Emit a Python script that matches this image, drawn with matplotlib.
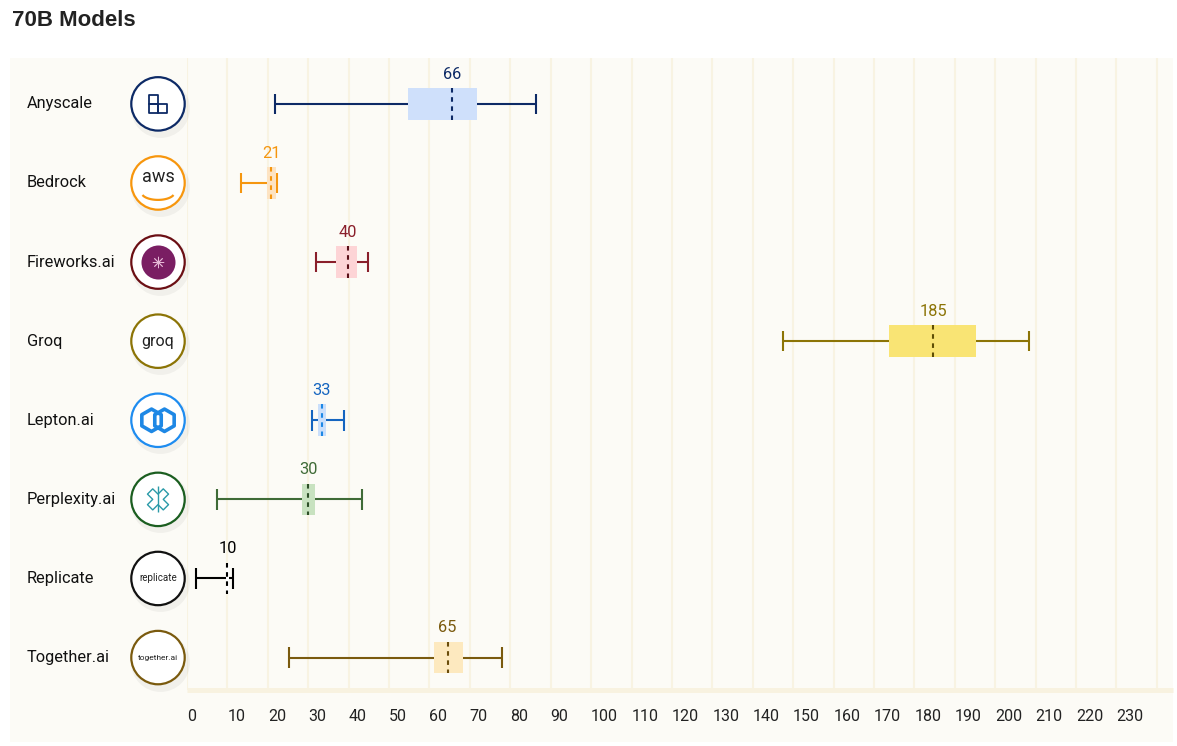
import numpy as np
import matplotlib.pyplot as plt
from matplotlib.transforms import blended_transform_factory, offset_copy
from matplotlib.patches import Rectangle
from matplotlib.path import Path

plt.rcParams['font.family'] = ['Roboto', 'DejaVu Sans']

providers = ["Anyscale", "Bedrock", "Fireworks.ai", "Groq", "Lepton.ai",
             "Perplexity.ai", "Replicate", "Together.ai"]
whisker_lo = [21.8, 13.3, 31.8, 147.4, 30.9, 7.5, 2.3, 25.2]
q1 = [54.6, 19.8, 36.9, 173.8, 32.3, 28.4, 9.7, 61.1]
median = [65.6, 20.9, 39.9, 184.6, 33.3, 30.0, 10.0, 64.5]
q3 = [71.8, 22.0, 42.0, 195.3, 34.3, 31.6, 10.3, 68.3]
whisker_hi = [86.4, 22.2, 44.8, 208.4, 38.9, 43.3, 11.4, 78.0]
median_labels = ["66", "21", "40", "185", "33", "30", "10", "65"]

line_colors = ["#0d2a66", "#f5960f", "#8a1f2b", "#8c7406", "#1565c0",
               "#3f6b37", "#000000", "#7a5a0e"]
box_colors = ["#cfe0fb", "#fde3c2", "#fdd4d6", "#f9e474", "#cadffb",
              "#c8e2c0", "#ffffff", "#fde9bf"]
median_colors = ["#0d2a66", "#f5960f", "#5a1018", "#5e4e04", "#1e88e5",
                 "#2d4f27", "#000000", "#6a4c0a"]
ring_colors = ["#0d2a66", "#f7960d", "#6b0f14", "#8c7406", "#1e8cf0",
               "#1b5e20", "#111111", "#7a5a0e"]
logo_texts = ["", "aws", "", "groq", "", "", "replicate", "together.ai"]

W, H = 1177, 746
fig = plt.figure(figsize=(W / 100, H / 100), dpi=100)
fig.patch.set_facecolor("white")
bg = "#fcfbf6"
fig.patches.append(Rectangle((10 / W, 4 / H), (1173 - 10) / W, (742 - 58) / H,
                             transform=fig.transFigure, facecolor=bg,
                             edgecolor="none", zorder=-10))

ax = fig.add_axes([187 / W, (H - 690) / H, (1173 - 187) / W, (690 - 58) / H])
ax.set_facecolor(bg)

y = np.arange(len(providers))
ax.set_xlim(0, 244)
ax.set_ylim(7.41, -0.58)

# grid and axis band
ticks = list(range(0, 250, 10))
ax.set_xticks(ticks)
ax.set_xticklabels([str(t) if t < 240 else "" for t in ticks], ha="left",
                   fontsize=11.5, color="#222222")
ax.tick_params(axis="x", length=0, pad=14)
ax.set_yticks([])
ax.set_axisbelow(True)
ax.grid(axis="x", color="#f8f3e2", linewidth=1.5, zorder=0)
for s in ["top", "right", "left"]:
    ax.spines[s].set_visible(False)
ax.spines["bottom"].set_color("#f8f2e0")
ax.spines["bottom"].set_linewidth(3.6)
ax.spines["bottom"].set_capstyle("butt")

box_h = 0.4
cap_h = 0.13
for i in range(len(providers)):
    c = line_colors[i]
    ax.hlines(y[i], whisker_lo[i], whisker_hi[i], color=c, lw=1.5, zorder=2)
    ax.vlines([whisker_lo[i], whisker_hi[i]], y[i] - cap_h, y[i] + cap_h,
              color=c, lw=1.5, zorder=2)
    ax.barh(y[i], q3[i] - q1[i], left=q1[i], height=box_h,
            color=box_colors[i], edgecolor="none", zorder=3)
    ax.vlines(median[i], y[i] - box_h / 2, y[i] + box_h / 2,
              color=median_colors[i], lw=1.5, linestyles=(0, (2.2, 2.2)), zorder=4)
    ax.text(median[i], y[i] - box_h / 2 - 0.08, median_labels[i],
            ha="center", va="bottom", color=c, fontsize=11.8, zorder=5)

# provider names and logo circles
trans = blended_transform_factory(fig.transFigure, ax.transData)
cx = 158 / W
for i, name in enumerate(providers):
    ax.text(27 / W, y[i], name, transform=trans, ha="left", va="center",
            fontsize=11.8, color="#111111", clip_on=False)

shadow = offset_copy(trans, fig=fig, x=2, y=-4, units="dots")
ax.scatter([cx] * len(y), y, s=1800, color="black", alpha=0.045,
           transform=shadow, clip_on=False, zorder=5, linewidths=0)
ax.scatter([cx] * len(y), y, s=1480, facecolor="white", edgecolor=ring_colors,
           linewidths=1.6, transform=trans, clip_on=False, zorder=6)

for i, t in enumerate(logo_texts):
    if t:
        fs = {"aws": 13, "groq": 11.5, "replicate": 7, "together.ai": 6}[t]
        dy = -0.07 if t == "aws" else 0
        ax.text(cx, y[i] + dy, t, transform=trans, ha="center", va="center",
                fontsize=fs, color="#222222", clip_on=False, zorder=7)

# amazon smile as a marker path
ang = np.linspace(np.radians(200), np.radians(340), 20)
smile = Path(np.column_stack([np.cos(ang), 0.45 * np.sin(ang)]))
ax.scatter([cx], [y[1] + 0.12], s=500, marker=smile, facecolor="none",
           edgecolor="#f7960d", linewidths=1.6, transform=trans,
           clip_on=False, zorder=7)
# anyscale blocks: two small squares on the left, a tall one on the right
for dy in [-0.05, 0.055]:
    ax.scatter([cx - 0.0042], [y[0] + dy], s=42, marker="s", facecolor="none",
               edgecolor="#0d2a66", linewidths=1.3, transform=trans,
               clip_on=False, zorder=7)
tall = Path([(-0.5, -1), (0.5, -1), (0.5, 1), (-0.5, 1), (-0.5, -1)])
ax.scatter([cx + 0.0042], [y[0] + 0.055], s=42, marker="s", facecolor="none",
           edgecolor="#0d2a66", linewidths=1.3, transform=trans,
           clip_on=False, zorder=7)
# fireworks
ax.scatter([cx], [y[2]], s=600, color="#7a1e63", transform=trans,
           clip_on=False, zorder=7, linewidths=0)
ax.scatter([cx], [y[2]], s=60, marker=(8, 2, 0), color="#e6b8d6", linewidths=0.6,
           transform=trans, clip_on=False, zorder=8)
# lepton
for dx in [-0.0055, 0.0055]:
    ax.scatter([cx + dx], [y[4]], s=260, marker="h", facecolor="none",
               edgecolor="#1e88e5", linewidths=2.6, transform=trans,
               clip_on=False, zorder=7)
# perplexity
ax.scatter([cx], [y[5]], s=230, marker="X", facecolor="none", edgecolor="#2a9aa8",
           linewidths=1.0, transform=trans, clip_on=False, zorder=7)
ax.scatter([cx], [y[5]], s=330, marker="|", color="#2a9aa8", linewidths=1.0,
           transform=trans, clip_on=False, zorder=7)

fig.text(12 / W, 1 - 21 / H, "70B Models", fontsize=16, fontweight="bold",
         family=["Liberation Sans", "DejaVu Sans"], color="#222222",
         ha="left", va="center")

fig.savefig("out.png", dpi=100, facecolor=fig.get_facecolor())
